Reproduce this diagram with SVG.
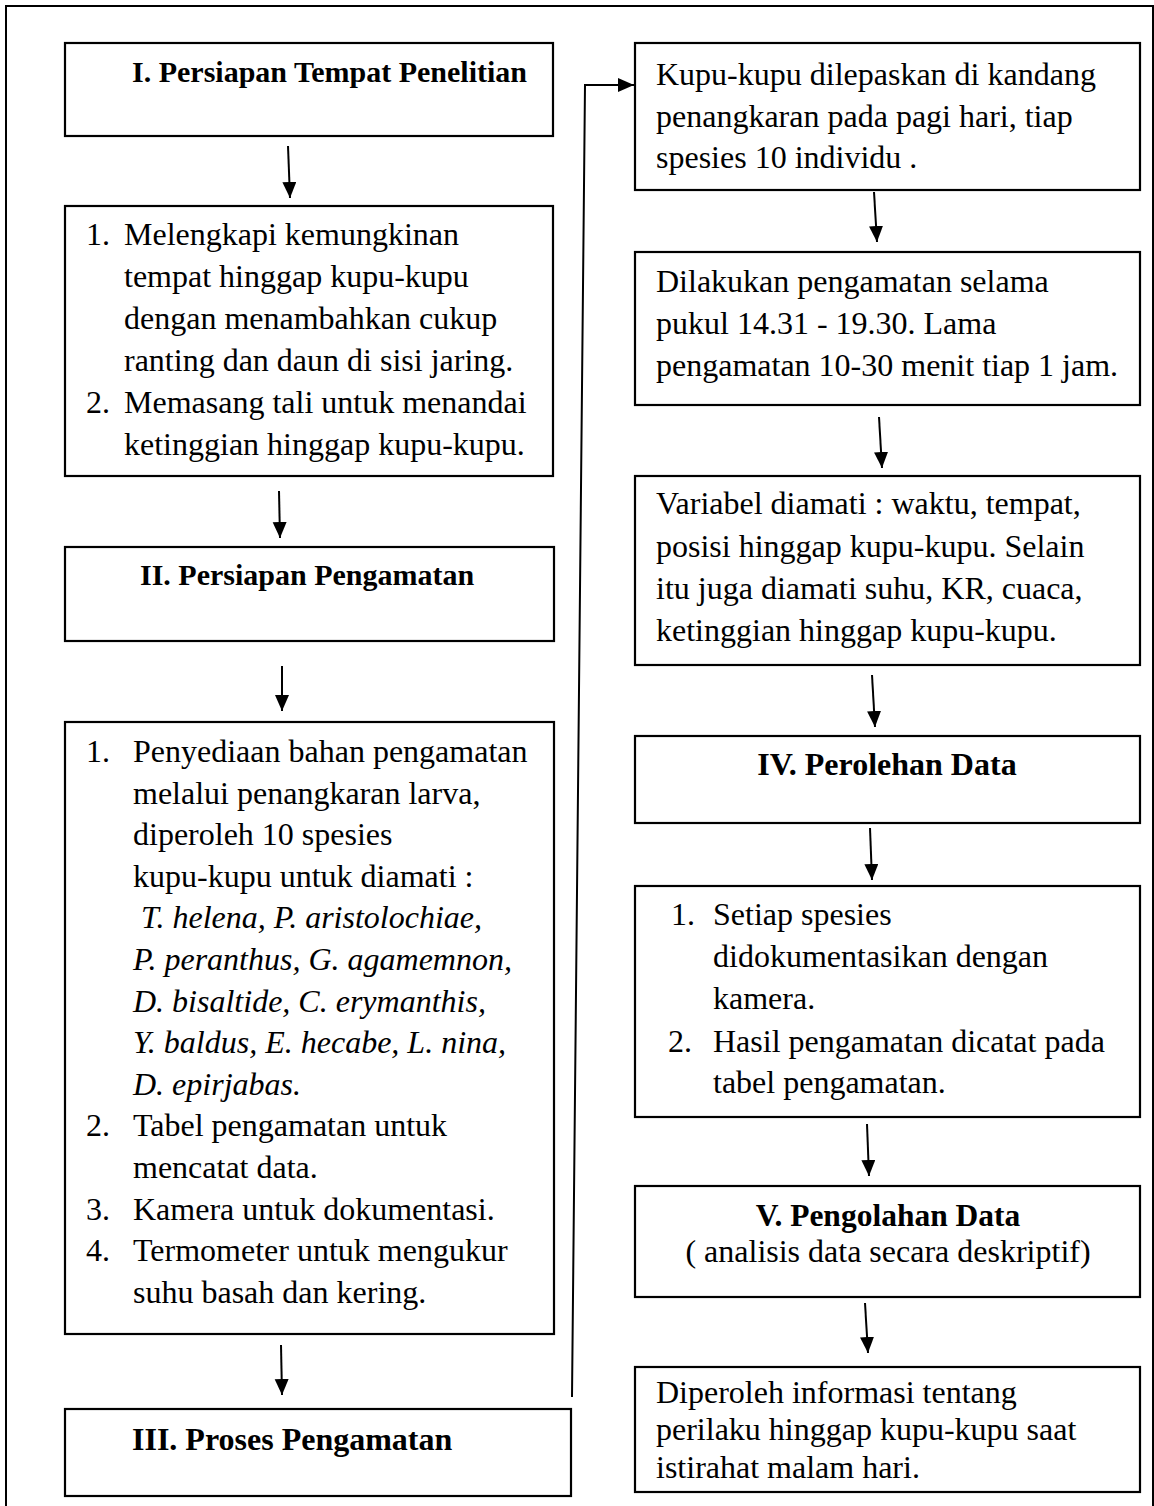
<svg xmlns="http://www.w3.org/2000/svg" width="1154" height="1506" viewBox="0 0 1154 1506">
<style>
.box{fill:#fff;stroke:#000;stroke-width:2.2}
.t{font-family:"Liberation Serif","Times New Roman",serif;font-size:32px;fill:#000}
.b{font-family:"Liberation Serif","Times New Roman",serif;font-weight:bold;fill:#000}
.i{font-style:italic}
.c{fill:none;stroke:#000;stroke-width:2}
</style>
<defs>
<marker id="ah" markerUnits="userSpaceOnUse" markerWidth="18" markerHeight="16" refX="16" refY="7" orient="auto">
<path d="M0,0 L16,7 L0,14 Z" fill="#000"/>
</marker>
</defs>
<rect width="1154" height="1506" fill="#fff"/>
<g id="frame"><path d="M6,1510 L6,6 L1153,6 L1153,1510" fill="none" stroke="#000" stroke-width="2"/></g>

<g id="n1"><rect class="box" x="65" y="43" width="488" height="93"/>
<text class="b" font-size="30" x="132" y="82">I. Persiapan Tempat Penelitian</text></g>

<g id="n2"><rect class="box" x="65" y="206" width="488" height="270"/>
<text class="t"><tspan x="86" y="245">1.</tspan><tspan x="124" y="245">Melengkapi kemungkinan</tspan>
<tspan x="124" y="287">tempat hinggap kupu-kupu</tspan>
<tspan x="124" y="329">dengan menambahkan cukup</tspan>
<tspan x="124" y="371">ranting dan daun di sisi jaring.</tspan>
<tspan x="86" y="413">2.</tspan><tspan x="124" y="413">Memasang tali untuk menandai</tspan>
<tspan x="124" y="455">ketinggian hinggap kupu-kupu.</tspan></text></g>

<g id="n3"><rect class="box" x="65" y="547" width="489" height="94"/>
<text class="b" font-size="30" x="140" y="585">II. Persiapan Pengamatan</text></g>

<g id="n4"><rect class="box" x="65" y="722" width="489" height="612"/>
<text class="t"><tspan x="86" y="762">1.</tspan><tspan x="133" y="762">Penyediaan bahan pengamatan</tspan>
<tspan x="133" y="803.6">melalui penangkaran larva,</tspan>
<tspan x="133" y="845.2">diperoleh 10 spesies</tspan>
<tspan x="133" y="886.8">kupu-kupu untuk diamati :</tspan>
<tspan class="i" x="141" y="928.4">T. helena, P. aristolochiae,</tspan>
<tspan class="i" x="133" y="970">P. peranthus, G. agamemnon,</tspan>
<tspan class="i" x="133" y="1011.6">D. bisaltide, C. erymanthis,</tspan>
<tspan class="i" x="133" y="1053.2">Y. baldus, E. hecabe, L. nina,</tspan>
<tspan class="i" x="133" y="1094.8">D. epirjabas.</tspan>
<tspan x="86" y="1136.4">2.</tspan><tspan x="133" y="1136.4">Tabel pengamatan untuk</tspan>
<tspan x="133" y="1178">mencatat data.</tspan>
<tspan x="86" y="1219.6">3.</tspan><tspan x="133" y="1219.6">Kamera untuk dokumentasi.</tspan>
<tspan x="86" y="1261.2">4.</tspan><tspan x="133" y="1261.2">Termometer untuk mengukur</tspan>
<tspan x="133" y="1302.8">suhu basah dan kering.</tspan></text></g>

<g id="n5"><rect class="box" x="65" y="1409" width="506" height="87"/>
<text class="b" font-size="32" x="132" y="1450">III. Proses Pengamatan</text></g>

<g id="n6"><rect class="box" x="635" y="43" width="505" height="147"/>
<text class="t"><tspan x="656" y="85">Kupu-kupu dilepaskan di kandang</tspan>
<tspan x="656" y="127">penangkaran pada pagi hari, tiap</tspan>
<tspan x="656" y="168">spesies 10 individu .</tspan></text></g>

<g id="n7"><rect class="box" x="635" y="252" width="505" height="153"/>
<text class="t"><tspan x="656" y="292">Dilakukan pengamatan selama</tspan>
<tspan x="656" y="334">pukul 14.31 - 19.30. Lama</tspan>
<tspan x="656" y="376">pengamatan 10-30 menit tiap 1 jam.</tspan></text></g>

<g id="n8"><rect class="box" x="635" y="476" width="505" height="189"/>
<text class="t"><tspan x="656" y="514">Variabel diamati : waktu, tempat,</tspan>
<tspan x="656" y="557">posisi hinggap kupu-kupu. Selain</tspan>
<tspan x="656" y="599">itu juga diamati suhu, KR, cuaca,</tspan>
<tspan x="656" y="641">ketinggian hinggap kupu-kupu.</tspan></text></g>

<g id="n9"><rect class="box" x="635" y="736" width="505" height="87"/>
<text class="b" font-size="32" x="887" y="775" text-anchor="middle">IV. Perolehan Data</text></g>

<g id="n10"><rect class="box" x="635" y="886" width="505" height="231"/>
<text class="t"><tspan x="671" y="925">1.</tspan><tspan x="713" y="925">Setiap spesies</tspan>
<tspan x="713" y="967">didokumentasikan dengan</tspan>
<tspan x="713" y="1009">kamera.</tspan>
<tspan x="668" y="1052">2.</tspan><tspan x="713" y="1052">Hasil pengamatan dicatat pada</tspan>
<tspan x="713" y="1093">tabel pengamatan.</tspan></text></g>

<g id="n11"><rect class="box" x="635" y="1186" width="505" height="111"/>
<text class="b" font-size="31.5" x="888" y="1226" text-anchor="middle">V. Pengolahan Data</text>
<text class="t" x="888" y="1262" text-anchor="middle">( analisis data secara deskriptif)</text></g>

<g id="n12"><rect class="box" x="635" y="1367" width="505" height="125"/>
<text class="t"><tspan x="656" y="1403">Diperoleh informasi tentang</tspan>
<tspan x="656" y="1440">perilaku hinggap kupu-kupu saat</tspan>
<tspan x="656" y="1478">istirahat malam hari.</tspan></text></g>

<g id="connectors">
<line class="c" x1="288" y1="146" x2="290" y2="198" marker-end="url(#ah)"/>
<line class="c" x1="279" y1="491" x2="280" y2="538" marker-end="url(#ah)"/>
<line class="c" x1="282" y1="666" x2="282" y2="711" marker-end="url(#ah)"/>
<line class="c" x1="281" y1="1345" x2="282" y2="1395" marker-end="url(#ah)"/>
<polyline class="c" points="572,1397 585,85 634,85" marker-end="url(#ah)"/>
<line class="c" x1="874" y1="192" x2="877" y2="242" marker-end="url(#ah)"/>
<line class="c" x1="879" y1="417" x2="882" y2="468" marker-end="url(#ah)"/>
<line class="c" x1="872" y1="675" x2="875" y2="727" marker-end="url(#ah)"/>
<line class="c" x1="870" y1="828" x2="872" y2="880" marker-end="url(#ah)"/>
<line class="c" x1="867" y1="1124" x2="869" y2="1176" marker-end="url(#ah)"/>
<line class="c" x1="865" y1="1303" x2="868" y2="1353" marker-end="url(#ah)"/>
</g>
</svg>
